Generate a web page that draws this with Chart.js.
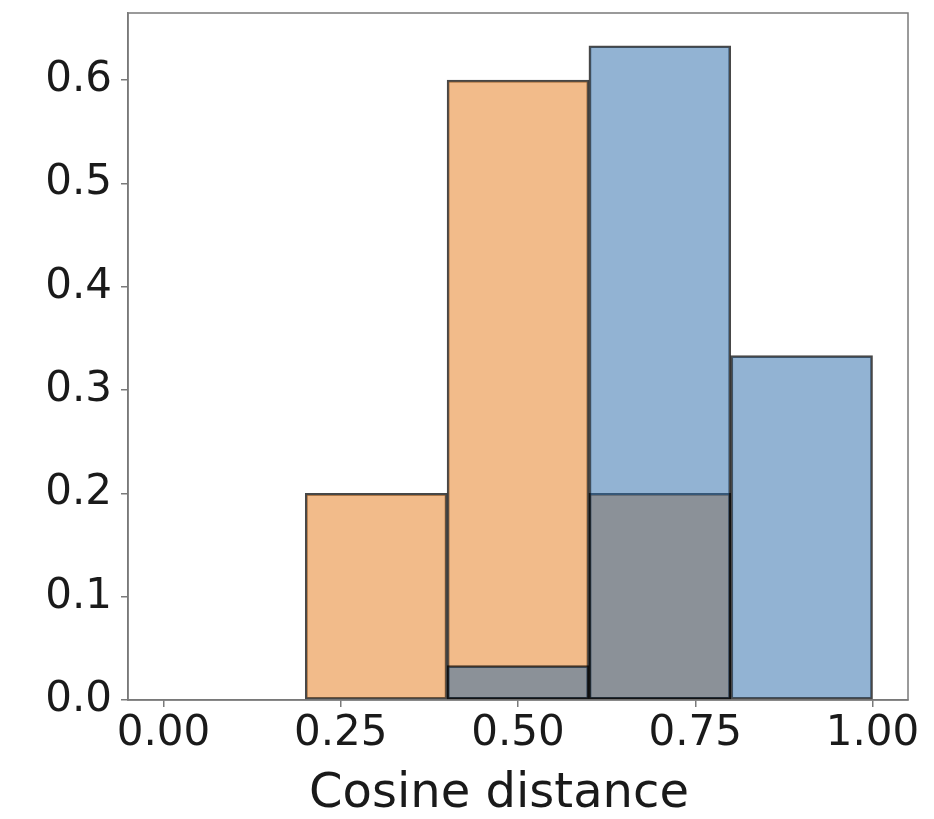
<!DOCTYPE html>
<html>
<head>
<meta charset="utf-8">
<script src="https://cdn.jsdelivr.net/npm/chart.js@4.4.1/dist/chart.umd.min.js"></script>
<style>
  html, body { margin:0; padding:0; background:#fff; }
  #wrap { width:934px; height:819px; }
</style>
</head>
<body>
<div id="wrap"><canvas id="hist" width="934" height="819"></canvas></div>
<script>
// histogram bins (centres of 0.2 wide bins) and normalised counts
const binCenters = [0.1, 0.3, 0.5, 0.7, 0.9];
const blueVals = [0, 0, 0.0333, 0.6333, 0.3333];
const orangeVals = [0, 0.2, 0.6, 0.2, 0];
const xTicks = [0, 0.25, 0.5, 0.75, 1.0];
const yTicks = [0, 0.1, 0.2, 0.3, 0.4, 0.5, 0.6];
const xLabel = 'Cosine distance';

const FONT = 'DejaVu Sans';
const frameColor = '#7a7a7a';

function toPoints(vals){
  return binCenters.map((x, i) => ({ x, y: vals[i] }));
}

// box around the plot + x label placed like the original
const framePlugin = {
  id: 'frame',
  afterDraw(chart){
    const { ctx, chartArea: a } = chart;
    ctx.save();
    ctx.strokeStyle = frameColor;
    ctx.lineWidth = 1.5;
    ctx.strokeRect(a.left, a.top, a.right - a.left, a.bottom - a.top);
    ctx.fillStyle = '#1a1a1a';
    ctx.font = `48px "${FONT}"`;
    ctx.textAlign = 'center';
    ctx.textBaseline = 'alphabetic';
    ctx.fillText(xLabel, 499, 807);
    ctx.restore();
  }
};

new Chart(document.getElementById('hist').getContext('2d'), {
  type: 'bar',
  data: {
    datasets: [
      {
        label: 'blue',
        data: toPoints(blueVals),
        backgroundColor: 'rgba(37,103,167,0.5)',
        borderColor: 'rgba(0,0,0,0.72)',
        borderWidth: 2,
        borderSkipped: false,
        order: 0
      },
      {
        label: 'orange',
        data: toPoints(orangeVals),
        backgroundColor: 'rgba(229,119,21,0.5)',
        borderColor: 'rgba(0,0,0,0.72)',
        borderWidth: 2,
        borderSkipped: false,
        order: 1
      }
    ]
  },
  options: {
    responsive: false,
    animation: false,
    grouped: false,
    barPercentage: 1,
    categoryPercentage: 1,
    layout: { padding: { top: 13, right: 26, left: 0, bottom: 0 } },
    plugins: { legend: { display: false }, tooltip: { enabled: false } },
    scales: {
      x: {
        type: 'linear',
        min: -0.05,
        max: 1.05,
        offset: false,
        afterBuildTicks: s => { s.ticks = xTicks.map(v => ({ value: v })); },
        afterFit: s => { s.height = 119; s.paddingLeft = 0; s.paddingRight = 0; },
        ticks: {
          callback: v => Number(v).toFixed(2),
          font: { family: FONT, size: 42 },
          color: '#1a1a1a',
          padding: 2,
          maxRotation: 0
        },
        grid: { offset: false, drawOnChartArea: false, drawTicks: true, tickLength: 7, color: frameColor, lineWidth: 1.5 },
        border: { display: true, color: frameColor, width: 1.5 }
      },
      y: {
        min: 0,
        max: 0.665,
        afterBuildTicks: s => { s.ticks = yTicks.map(v => ({ value: v })); },
        afterFit: s => { s.width = 128; s.paddingTop = 0; s.paddingBottom = 0; },
        ticks: {
          callback: v => Number(v).toFixed(1),
          font: { family: FONT, size: 42 },
          color: '#1a1a1a',
          padding: 9
        },
        grid: { drawOnChartArea: false, drawTicks: true, tickLength: 7, color: frameColor, lineWidth: 1.5 },
        border: { display: true, color: frameColor, width: 1.5 }
      }
    }
  },
  plugins: [framePlugin]
});
</script>
</body>
</html>
